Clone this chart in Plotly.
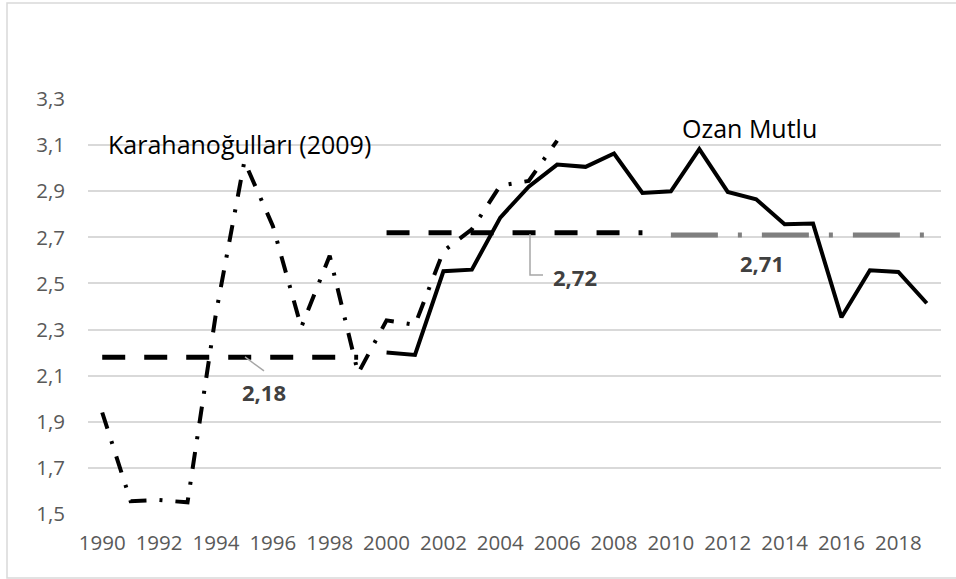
import plotly.graph_objects as go

# ---- data ----
kar_years = list(range(1990, 2007))
kar_values = [1.94, 1.555, 1.56, 1.55, 2.37, 3.03, 2.75, 2.31, 2.62, 2.11,
              2.34, 2.32, 2.64, 2.735, 2.925, 2.945, 3.12]

mutlu_years = list(range(2000, 2020))
mutlu_values = [2.20, 2.19, 2.553, 2.56, 2.786, 2.92, 3.016, 3.006, 3.064, 2.893,
                2.90, 3.083, 2.897, 2.865, 2.757, 2.76, 2.353, 2.557, 2.55, 2.414]

mean_periods = [(1990, 1999), (2000, 2009), (2010, 2019)]
mean_values = [2.18, 2.72, 2.71]
mean_labels = ["2,18", "2,72", "2,71"]

x_ticks = list(range(1990, 2019, 2))
y_ticks = [1.5, 1.7, 1.9, 2.1, 2.3, 2.5, 2.7, 2.9, 3.1, 3.3]
y_ticktext = [f"{v:.1f}".replace(".", ",") for v in y_ticks]

# ---- layout geometry (pixels) ----
W, H = 956, 579
L, R, T, B = 88, 15, 99, 65
PW, PH = W - L - R, H - T - B
XMIN, XMAX = 1989.5, 2019.5
YMIN, YMAX = 1.5, 3.3


def dx(px):
    return XMIN + (px - L) / PW * (XMAX - XMIN)


def dy(py):
    return YMIN + (H - B - py) / PH * (YMAX - YMIN)


FONT = "Open Sans"
fig = go.Figure()

# mean reference lines
fig.add_trace(go.Scatter(x=list(mean_periods[0]), y=[mean_values[0]] * 2, mode="lines",
                         line=dict(color="black", width=5, dash="23px,19px"), hoverinfo="skip"))
fig.add_trace(go.Scatter(x=list(mean_periods[1]), y=[mean_values[1]] * 2, mode="lines",
                         line=dict(color="black", width=5, dash="23px,19px"), hoverinfo="skip"))
fig.add_trace(go.Scatter(x=list(mean_periods[2]), y=[mean_values[2]] * 2, mode="lines",
                         line=dict(color="#7f7f7f", width=5, dash="47px,20px,4px,20px"), hoverinfo="skip"))

# series
fig.add_trace(go.Scatter(x=kar_years, y=kar_values, mode="lines",
                         line=dict(color="black", width=4, dash="17px,13px,3px,13px")))
fig.add_trace(go.Scatter(x=mutlu_years, y=mutlu_values, mode="lines",
                         line=dict(color="black", width=4)))

# leader lines
fig.add_shape(type="line", x0=dx(245), y0=dy(357), x1=dx(264), y1=dy(371),
              line=dict(color="#a6a6a6", width=1.5))
fig.add_shape(type="path",
              path=f"M {dx(530)},{dy(234)} L {dx(530)},{dy(275)} L {dx(543)},{dy(275)}",
              line=dict(color="#a6a6a6", width=1.5))

# chart border
fig.add_shape(type="rect", xref="paper", yref="paper",
              x0=(7 - L) / PW, x1=(960 - L) / PW,
              y0=(H - B - 578) / PH, y1=(H - B - 3) / PH,
              line=dict(color="#d9d9d9", width=1.5), layer="below")

# labels
ann = [
    dict(text="Karahanoğulları (2009)", x=dx(106), y=dy(143.5), xanchor="left",
         font=dict(size=25, color="black", family=FONT)),
    dict(text="Ozan Mutlu", x=dx(749), y=dy(127.5), xanchor="center",
         font=dict(size=25, color="black", family=FONT)),
    dict(text=mean_labels[0], x=dx(264), y=dy(392), xanchor="center",
         font=dict(size=22, color="#404040", family=FONT, weight="bold")),
    dict(text=mean_labels[1], x=dx(575), y=dy(276.5), xanchor="center",
         font=dict(size=22, color="#404040", family=FONT, weight="bold")),
    dict(text=mean_labels[2], x=dx(762), y=dy(263), xanchor="center",
         font=dict(size=22, color="#404040", family=FONT, weight="bold")),
]
for a in ann:
    fig.add_annotation(xref="x", yref="y", showarrow=False, yanchor="middle", **a)

fig.update_layout(
    width=W, height=H,
    margin=dict(l=L, r=R, t=T, b=B),
    paper_bgcolor="white", plot_bgcolor="white",
    showlegend=False,
    font=dict(family=FONT, color="#595959", size=20),
    xaxis=dict(range=[XMIN, XMAX], tickvals=x_ticks, ticktext=[str(v) for v in x_ticks],
               showgrid=False, zeroline=False, showline=False, ticks="",
               tickfont=dict(size=20.5, color="#595959", family=FONT), ticklabelstandoff=14),
    yaxis=dict(range=[YMIN - 0.0005, YMAX + 0.0005], tickvals=y_ticks, ticktext=y_ticktext,
               showgrid=True, gridcolor="#d9d9d9", gridwidth=1.5, zeroline=False,
               showline=False, ticks="", tickfont=dict(size=20.5, color="#595959", family=FONT),
               ticklabelstandoff=22),
)

fig.write_html("out.html", config={"displayModeBar": False},
               post_script="document.body.style.margin='0';document.body.style.overflow='hidden';")
